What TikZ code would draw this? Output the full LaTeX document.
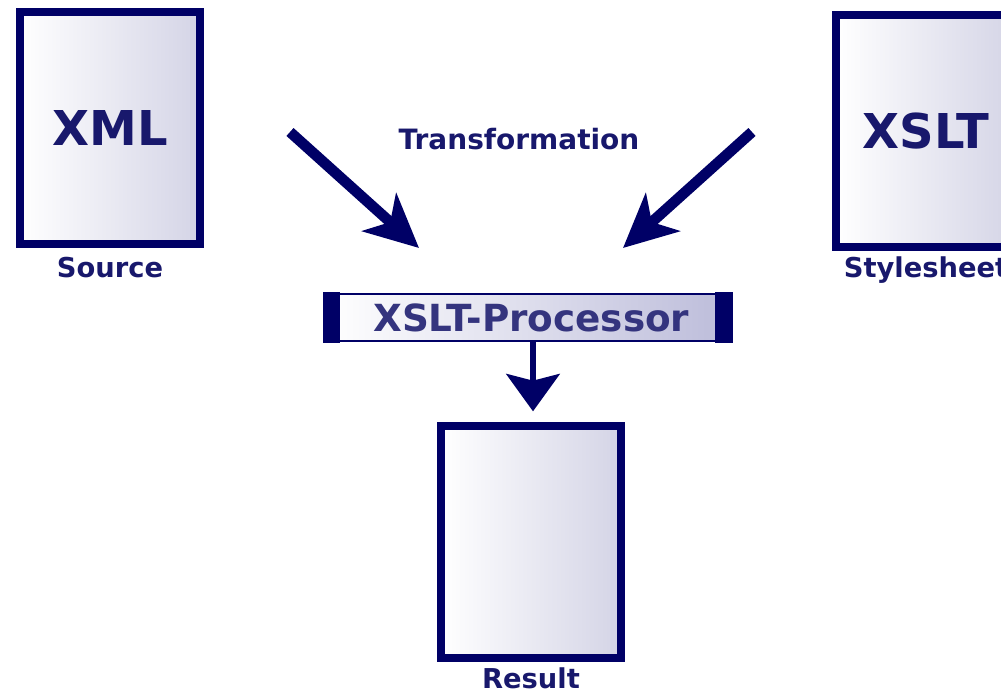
\documentclass[tikz,border=0pt]{standalone}
\usepackage{fontspec}
\setmainfont{DejaVu Sans}
\usetikzlibrary{arrows.meta,positioning}

\definecolor{inkblue}{RGB}{0,0,102}
\definecolor{textblue}{RGB}{24,24,108}
\definecolor{paleblue}{RGB}{212,212,230}
\definecolor{barblue}{RGB}{188,188,218}

\begin{document}
\begin{tikzpicture}[x=0.75pt,y=0.75pt,
        doc/.style={draw=inkblue,line width=6pt,left color=white,right color=paleblue,
            minimum width=135pt,minimum height=174pt,inner sep=0pt,text=textblue,
            font=\bfseries\fontsize{36}{36}\selectfont},
        caption/.style={inner sep=0pt,text=textblue,font=\bfseries\fontsize{20.5}{20.5}\selectfont},
        feed/.style={draw=inkblue,line width=8pt,
            -{Stealth[length=40pt,width=38pt,inset=11pt]}},
        drop/.style={draw=inkblue,line width=4.5pt,
            -{Stealth[length=28pt,width=40pt,inset=5pt]}}]
    \useasboundingbox (0,0) rectangle (1001,693);

    % the three documents
    \node [doc] (xml) at (110,564.5) {XML};
    \node [below=6.5pt of xml,caption] (source) {Source};

    \node [doc] (xslt) at (926,562) {XSLT};
    \node [below=4pt of xslt,caption] (sheet) {Stylesheet};

    \node [doc] (result) at (531,151) {};
    \node [below=4pt of result,caption] (res) {Result};

    % processor bar with dark end caps
    \node [draw=inkblue,line width=1.5pt,left color=white,right color=barblue,
        minimum width=304.5pt,minimum height=35.25pt,inner sep=0pt,text=textblue!88!white,
        font=\bfseries\fontsize{28}{28}\selectfont] (proc) at (528,375.5) {\hspace{5pt}XSLT-Processor};
    \fill [inkblue] ([shift={(-0.75pt,0.75pt)}]proc.north west)
        rectangle ([shift={(12pt,-0.75pt)}]proc.south west);
    \fill [inkblue] ([shift={(-12.75pt,0.75pt)}]proc.north east)
        rectangle ([shift={(0.75pt,-0.75pt)}]proc.south east);

    \node [caption,font=\bfseries\fontsize{21}{21}\selectfont] (trans) at (519,554) {Transformation};

    % arrows into and out of the processor
    \coordinate (xmlout) at (290,561);
    \coordinate (xmltip) at (419,445);
    \coordinate (xsltout) at (752,561);
    \coordinate (xslttip) at (623,445);
    \draw [feed] (xmlout) -- (xmltip);
    \draw [feed] (xsltout) -- (xslttip);
    \draw [drop] ([xshift=3.75pt]proc.south) -- ([xshift=1.5pt,yshift=8pt]result.north);
\end{tikzpicture}
\end{document}
